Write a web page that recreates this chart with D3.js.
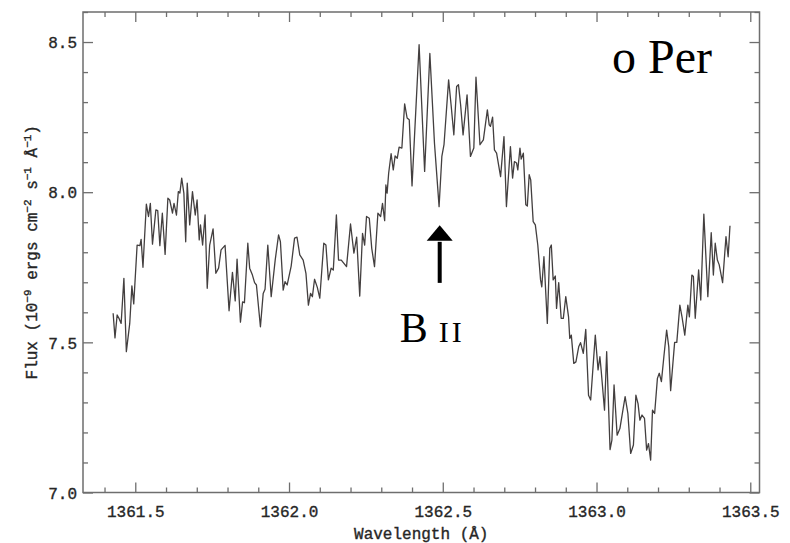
<!DOCTYPE html>
<html>
<head>
<meta charset="utf-8">
<script src="https://cdn.jsdelivr.net/npm/d3@7/dist/d3.min.js"></script>
<style>
  html, body { margin: 0; padding: 0; background: #ffffff; }
  svg { display: block; }
  .tick-label { font-family: "Liberation Mono", "Courier New", monospace; font-size: 16px; fill: #262626; stroke: #262626; stroke-width: 0.35px; }
  .axis-title { font-family: "Liberation Mono", "Courier New", monospace; font-size: 16px; fill: #262626; stroke: #262626; stroke-width: 0.35px; }
  .note { font-family: "Liberation Serif", "Times New Roman", serif; fill: #000000; }
</style>
</head>
<body>
<svg id="chart" width="790" height="543"></svg>
<script>
// o Per spectrum around the B II 1362.46 A line
const wavelength = [
  1361.428, 1361.434, 1361.441, 1361.447, 1361.454, 1361.463, 1361.471, 1361.482, 1361.489, 1361.495,
  1361.506, 1361.515, 1361.519, 1361.525, 1361.536, 1361.543, 1361.549, 1361.556, 1361.567, 1361.573,
  1361.580, 1361.588, 1361.597, 1361.606, 1361.612, 1361.621, 1361.626, 1361.634, 1361.640, 1361.645,
  1361.651, 1361.658, 1361.664, 1361.669, 1361.677, 1361.686, 1361.695, 1361.701, 1361.708, 1361.712,
  1361.719, 1361.727, 1361.734, 1361.742, 1361.753, 1361.762, 1361.771, 1361.779, 1361.792, 1361.805,
  1361.816, 1361.825, 1361.831, 1361.842, 1361.849, 1361.855, 1361.866, 1361.872, 1361.881, 1361.888,
  1361.894, 1361.907, 1361.916, 1361.922, 1361.931, 1361.942, 1361.955, 1361.966, 1361.972, 1361.981,
  1361.987, 1361.994, 1362.007, 1362.018, 1362.026, 1362.035, 1362.046, 1362.055, 1362.063, 1362.070,
  1362.076, 1362.083, 1362.092, 1362.100, 1362.113, 1362.120, 1362.128, 1362.137, 1362.144, 1362.154,
  1362.161, 1362.170, 1362.187, 1362.200, 1362.211, 1362.220, 1362.230, 1362.239, 1362.246, 1362.252,
  1362.261, 1362.269, 1362.278, 1362.289, 1362.298, 1362.304, 1362.311, 1362.315, 1362.319, 1362.324,
  1362.332, 1362.339, 1362.345, 1362.352, 1362.358, 1362.367, 1362.376, 1362.384, 1362.391, 1362.400,
  1362.423, 1362.441, 1362.458, 1362.473, 1362.488, 1362.497, 1362.504, 1362.519, 1362.527, 1362.536,
  1362.545, 1362.551, 1362.558, 1362.566, 1362.579, 1362.590, 1362.601, 1362.608, 1362.621, 1362.632,
  1362.645, 1362.651, 1362.655, 1362.662, 1362.668, 1362.675, 1362.688, 1362.699, 1362.707, 1362.720,
  1362.727, 1362.733, 1362.740, 1362.744, 1362.751, 1362.755, 1362.762, 1362.770, 1362.775, 1362.781,
  1362.786, 1362.794, 1362.801, 1362.809, 1362.818, 1362.822, 1362.829, 1362.840, 1362.848, 1362.853,
  1362.859, 1362.866, 1362.870, 1362.877, 1362.885, 1362.892, 1362.900, 1362.909, 1362.913, 1362.918,
  1362.926, 1362.933, 1362.942, 1362.948, 1362.957, 1362.965, 1362.974, 1362.981, 1362.996, 1363.005,
  1363.011, 1363.015, 1363.026, 1363.033, 1363.044, 1363.050, 1363.057, 1363.067, 1363.076, 1363.085,
  1363.093, 1363.102, 1363.111, 1363.120, 1363.128, 1363.135, 1363.141, 1363.148, 1363.156, 1363.163,
  1363.169, 1363.176, 1363.182, 1363.189, 1363.198, 1363.204, 1363.211, 1363.219, 1363.228, 1363.235,
  1363.241, 1363.254, 1363.261, 1363.271, 1363.278, 1363.287, 1363.297, 1363.302, 1363.310, 1363.315,
  1363.321, 1363.332, 1363.339, 1363.349, 1363.362, 1363.373, 1363.380, 1363.386, 1363.393, 1363.399,
  1363.410, 1363.421, 1363.428, 1363.434
];

const flux = [
  7.597, 7.515, 7.591, 7.580, 7.563, 7.713, 7.469, 7.563, 7.688, 7.628,
  7.824, 7.822, 7.843, 7.750, 7.960, 7.919, 7.963, 7.827, 7.941, 7.939,
  7.822, 7.930, 7.793, 7.980, 7.974, 7.930, 7.963, 7.924, 8.002, 7.997,
  8.047, 7.997, 7.835, 8.030, 7.891, 8.002, 7.924, 7.974, 7.841, 7.891,
  7.824, 7.924, 7.680, 7.824, 7.878, 7.730, 7.747, 7.808, 7.823, 7.605,
  7.733, 7.638, 7.777, 7.567, 7.635, 7.632, 7.830, 7.747, 7.724, 7.699,
  7.691, 7.552, 7.663, 7.677, 7.824, 7.652, 7.774, 7.858, 7.835, 7.674,
  7.702, 7.691, 7.754, 7.847, 7.850, 7.791, 7.774, 7.730, 7.624, 7.663,
  7.652, 7.710, 7.683, 7.647, 7.830, 7.824, 7.708, 7.747, 7.741, 7.924,
  7.774, 7.774, 7.752, 7.894, 7.797, 7.850, 7.654, 7.863, 7.824, 7.919,
  7.913, 7.813, 7.752, 7.930, 7.919, 7.963, 7.905, 8.024, 7.997, 8.063,
  8.128, 8.074, 8.121, 8.113, 8.150, 8.147, 8.294, 8.247, 8.241, 8.021,
  8.491, 8.069, 8.462, 8.163, 7.952, 8.119, 8.158, 8.374, 8.291, 8.191,
  8.352, 8.358, 8.291, 8.191, 8.324, 8.119, 8.147, 8.383, 8.158, 8.174,
  8.274, 8.224, 8.219, 8.250, 8.141, 8.130, 8.052, 8.185, 7.952, 8.152,
  8.047, 8.102, 8.097, 8.074, 8.147, 8.110, 8.130, 7.958, 7.954, 8.058,
  8.041, 7.902, 7.891, 7.824, 7.708, 7.685, 7.785, 7.563, 7.813, 7.824,
  7.708, 7.721, 7.613, 7.699, 7.580, 7.580, 7.652, 7.585, 7.513, 7.524,
  7.430, 7.435, 7.485, 7.499, 7.463, 7.543, 7.324, 7.308, 7.524, 7.408,
  7.452, 7.408, 7.274, 7.469, 7.143, 7.174, 7.358, 7.191, 7.213, 7.269,
  7.319, 7.263, 7.130, 7.158, 7.324, 7.296, 7.241, 7.258, 7.247, 7.141,
  7.163, 7.108, 7.274, 7.263, 7.380, 7.397, 7.369, 7.452, 7.541, 7.485,
  7.339, 7.500, 7.500, 7.624, 7.585, 7.524, 7.624, 7.585, 7.724, 7.719,
  7.580, 7.741, 7.641, 7.927, 7.652, 7.865, 7.724, 7.830, 7.774, 7.758,
  7.699, 7.852, 7.785, 7.888
];

// Axis ticks
const xMajorTicks = [1361.5, 1362.0, 1362.5, 1363.0, 1363.5];
const xTickLabels = ["1361.5", "1362.0", "1362.5", "1363.0", "1363.5"];
const yMajorTicks = [7.0, 7.5, 8.0, 8.5];
const yTickLabels = ["7.0", "7.5", "8.0", "8.5"];

const W = 790, H = 543;
const margin = { top: 12, right: 30.5, bottom: 50.5, left: 83 };
const iw = W - margin.left - margin.right;
const ih = H - margin.top - margin.bottom;

const x = d3.scaleLinear().domain([1361.33, 1363.53]).range([0, iw]);
const y = d3.scaleLinear().domain([7.0, 8.6]).range([ih, 0]);

const xMinor = d3.range(13614, 13636).map(d => d / 10).filter(v => !xMajorTicks.includes(v));
const yMinor = d3.range(70, 87).map(d => d / 10).filter(v => !yMajorTicks.includes(v));

const svg = d3.select("#chart");
const g = svg.append("g").attr("transform", `translate(${margin.left},${margin.top})`);

const frameColor = "#6e6e6e";

function styleAxis(sel) {
  sel.select(".domain").remove();
  sel.selectAll(".tick line").attr("stroke", frameColor).attr("stroke-width", 1.3);
}

// Bottom axis: major ticks with labels, minor ticks without
g.append("g").attr("transform", `translate(0,${ih})`)
  .call(d3.axisBottom(x).tickValues(xMajorTicks).tickSize(-10).tickPadding(13)
    .tickFormat((d, i) => xTickLabels[i]))
  .call(styleAxis)
  .call(s => s.selectAll("text").attr("class", "tick-label").attr("fill", null)
    .attr("font-family", null).attr("font-size", null));
g.append("g").attr("transform", `translate(0,${ih})`)
  .call(d3.axisBottom(x).tickValues(xMinor).tickSize(-5).tickFormat(""))
  .call(styleAxis);

// Top axis (ticks only)
g.append("g")
  .call(d3.axisTop(x).tickValues(xMajorTicks).tickSize(-10).tickFormat(""))
  .call(styleAxis);
g.append("g")
  .call(d3.axisTop(x).tickValues(xMinor).tickSize(-5).tickFormat(""))
  .call(styleAxis);

// Left axis
g.append("g")
  .call(d3.axisLeft(y).tickValues(yMajorTicks).tickSize(-10).tickPadding(6)
    .tickFormat((d, i) => yTickLabels[i]))
  .call(styleAxis)
  .call(s => s.selectAll("text").attr("class", "tick-label").attr("fill", null)
    .attr("font-family", null).attr("font-size", null).attr("dy", "0.36em"));
g.append("g")
  .call(d3.axisLeft(y).tickValues(yMinor).tickSize(-5).tickFormat(""))
  .call(styleAxis);

// Right axis (ticks only)
g.append("g").attr("transform", `translate(${iw},0)`)
  .call(d3.axisRight(y).tickValues(yMajorTicks).tickSize(-10).tickFormat(""))
  .call(styleAxis);
g.append("g").attr("transform", `translate(${iw},0)`)
  .call(d3.axisRight(y).tickValues(yMinor).tickSize(-5).tickFormat(""))
  .call(styleAxis);

// Plot frame
g.append("rect")
  .attr("x", 0).attr("y", 0).attr("width", iw).attr("height", ih)
  .attr("fill", "none").attr("stroke", frameColor).attr("stroke-width", 1.5);

// Spectrum
const points = wavelength.map((w, i) => [w, flux[i]]);
g.append("path")
  .datum(points)
  .attr("fill", "none")
  .attr("stroke", "#433f3f")
  .attr("stroke-width", 1.3)
  .attr("stroke-linejoin", "round")
  .attr("d", d3.line().x(d => x(d[0])).y(d => y(d[1])));

// Axis titles
g.append("text")
  .attr("class", "axis-title")
  .attr("x", iw / 2).attr("y", H - margin.top - 4)
  .attr("text-anchor", "middle")
  .text("Wavelength (Å)");

const yTitle = g.append("text")
  .attr("class", "axis-title")
  .attr("text-anchor", "middle")
  .attr("transform", `translate(${-margin.left + 37},${ih / 2}) rotate(-90)`);
const yParts = [
  ["Flux (10", false], ["−9", true], [" ergs cm", false], ["−2", true],
  [" s", false], ["−1", true], [" Å", false], ["−1", true], [")", false]
];
yParts.forEach(([t, sup], i) => {
  const prevSup = i > 0 && yParts[i - 1][1];
  const ts = yTitle.append("tspan").text(t);
  if (sup) ts.attr("dy", "-0.55em").attr("font-size", "11px");
  else if (prevSup) ts.attr("dy", "0.38em");
});

// Star name
g.append("text")
  .attr("class", "note")
  .attr("x", 612 - margin.left).attr("y", 73 - margin.top)
  .attr("font-size", 48)
  .text("o Per");

// B II line marker
const lineW = 1362.49;
const ax = x(lineW);
const tipY = y(7.89), headBase = y(7.838), tailY = y(7.698);
g.append("line")
  .attr("x1", ax).attr("x2", ax).attr("y1", tailY).attr("y2", headBase + 1)
  .attr("stroke", "#000").attr("stroke-width", 4);
g.append("path")
  .attr("d", `M${ax - 13},${headBase} L${ax + 13},${headBase} L${ax},${tipY} Z`)
  .attr("fill", "#000");
const bLabel = g.append("text")
  .attr("class", "note")
  .attr("x", ax - 40).attr("y", y(7.5))
  .attr("font-size", 42);
bLabel.append("tspan").text("B");
bLabel.append("tspan").attr("dx", 11).attr("font-size", 30).attr("letter-spacing", 3).text("II");
</script>
</body>
</html>
